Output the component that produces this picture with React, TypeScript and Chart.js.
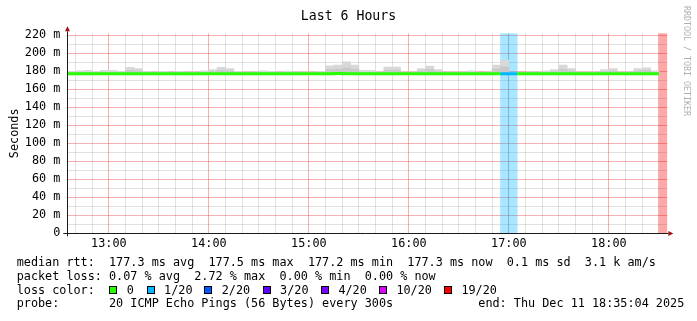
import React, { useEffect, useRef } from "react";
import { Chart, registerables } from "chart.js";

Chart.register(...registerables);

const MONO = "'DejaVu Sans Mono', 'Liberation Mono', monospace";

const chartTitle = "Last 6 Hours";
const yAxisTitle = "Seconds";
const endTime = "18:35:04";
const spanMinutes = 360;
const stepMinutes = 5;
const yAxisMax = 222.2;

const sampleTimes = [
  "12:35", "12:40", "12:45", "12:50", "12:55",
  "13:00", "13:05", "13:10", "13:15", "13:20", "13:25", "13:30", "13:35", "13:40", "13:45", "13:50", "13:55",
  "14:00", "14:05", "14:10", "14:15", "14:20", "14:25", "14:30", "14:35", "14:40", "14:45", "14:50", "14:55",
  "15:00", "15:05", "15:10", "15:15", "15:20", "15:25", "15:30", "15:35", "15:40", "15:45", "15:50", "15:55",
  "16:00", "16:05", "16:10", "16:15", "16:20", "16:25", "16:30", "16:35", "16:40", "16:45", "16:50", "16:55",
  "17:00", "17:05", "17:10", "17:15", "17:20", "17:25", "17:30", "17:35", "17:40", "17:45", "17:50", "17:55",
  "18:00", "18:05", "18:10", "18:15", "18:20", "18:25", "18:30",
];

// median rtt per sample (ms)
const medianRtt = [
  177.3, 177.3, 177.4, 177.3, 177.3, 177.2, 177.3, 177.3, 177.4, 177.3,
  177.3, 177.2, 177.3, 177.3, 177.3, 177.2, 177.3, 177.4, 177.3, 177.3,
  177.3, 177.3, 177.2, 177.3, 177.3, 177.3, 177.3, 177.2, 177.3, 177.3,
  177.3, 177.4, 177.5, 177.4, 177.3, 177.3, 177.3, 177.2, 177.3, 177.3,
  177.3, 177.3, 177.3, 177.4, 177.3, 177.3, 177.2, 177.3, 177.3, 177.3,
  177.3, 177.3, 177.4, 177.3, 177.3, 177.2, 177.3, 177.3, 177.3, 177.4,
  177.3, 177.3, 177.3, 177.2, 177.3, 177.3, 177.3, 177.3, 177.3, 177.3,
  177.3, null,
];

// smoke (ping spread) per sample (ms)
const smokeLow = [
  176.8, 176.8, 176.8, 176.8, 176.8, 176.8, 176.8, 176.8, 176.8, 176.8,
  176.8, 176.8, 176.8, 176.8, 176.8, 176.8, 176.8, 176.8, 176.8, 176.8,
  176.8, 176.8, 176.8, 176.8, 176.8, 176.8, 176.8, 176.8, 176.8, 176.8,
  176.8, 176.8, 176.8, 176.8, 176.8, 176.8, 176.8, 176.8, 176.8, 176.8,
  176.8, 176.8, 176.8, 176.8, 176.8, 176.8, 176.8, 176.8, 176.8, 176.8,
  176.8, 176.8, 176.8, 176.8, 176.8, 176.8, 176.8, 176.8, 176.8, 176.8,
  176.8, 176.8, 176.8, 176.8, 176.8, 176.8, 176.8, 176.8, 176.8, 176.8,
  176.8, null,
];
const smokeMid = [
  178.6, 178.8, 179.0, 178.6, 179.0, 179.0, 178.6, 181.0, 180.5, 178.6,
  178.4, 178.6, 178.4, 178.6, 178.4, 178.4, 178.8, 179.6, 181.0, 180.5,
  178.6, 178.4, 178.4, 178.8, 178.6, 178.4, 178.7, 178.4, 178.4, 178.4,
  178.6, 182.0, 182.5, 184.0, 182.5, 179.0, 179.0, 178.4, 181.5, 181.5,
  178.4, 178.4, 180.5, 182.0, 179.6, 178.4, 178.4, 178.4, 178.8, 178.2,
  178.4, 182.5, 185.0, 177.6, 178.2, 178.4, 178.4, 178.8, 179.6, 182.0,
  180.5, 178.4, 178.4, 178.4, 179.6, 180.5, 178.4, 178.4, 180.5, 181.0,
  178.8, null,
];
const smokeHigh = [
  180.0, 180.5, 181.0, 180.0, 181.0, 181.0, 180.0, 184.3, 183.0, 180.0,
  179.5, 180.0, 179.5, 180.0, 179.5, 179.5, 180.5, 182.0, 184.3, 183.0,
  180.0, 179.5, 179.5, 180.6, 180.0, 179.5, 180.2, 179.5, 179.5, 179.5,
  180.0, 186.0, 187.0, 190.6, 187.0, 181.0, 181.0, 179.5, 184.6, 184.6,
  179.5, 179.5, 183.0, 185.7, 182.0, 179.5, 179.5, 179.5, 180.5, 179.0,
  179.5, 187.0, 192.4, 178.0, 179.0, 179.5, 179.5, 180.5, 182.0, 187.0,
  183.0, 179.5, 179.5, 179.5, 182.0, 183.0, 179.5, 179.5, 183.0, 184.0,
  180.5, null,
];

// lost pings out of 20 per sample
const lossCount = [
  0, 0, 0, 0, 0, 0, 0, 0, 0, 0,
  0, 0, 0, 0, 0, 0, 0, 0, 0, 0,
  0, 0, 0, 0, 0, 0, 0, 0, 0, 0,
  0, 0, 0, 0, 0, 0, 0, 0, 0, 0,
  0, 0, 0, 0, 0, 0, 0, 0, 0, 0,
  0, 0, 1, 1, 0, 0, 0, 0, 0, 0,
  0, 0, 0, 0, 0, 0, 0, 0, 0, 0,
  0, 20,
];

const xTickLabels = ["13:00", "14:00", "15:00", "16:00", "17:00", "18:00"];
const yTickValues = [0, 20, 40, 60, 80, 100, 120, 140, 160, 180, 200, 220];
const yTickLabels = ["0", "20 m", "40 m", "60 m", "80 m", "100 m", "120 m", "140 m", "160 m", "180 m", "200 m", "220 m"];

const lossLevels = [0, 1, 2, 3, 4, 10, 19];
const lossLabels = ["0", "1/20", "2/20", "3/20", "4/20", "10/20", "19/20"];
const lossColors = ["#26ff00", "#00b8ff", "#0059ff", "#5e00ff", "#7e00ff", "#dd00ff", "#ff0000"];
const lossLegendX = [109.3, 146.7, 204.3, 262.7, 321, 379, 444];

const medianLine = "median rtt:  177.3 ms avg  177.5 ms max  177.2 ms min  177.3 ms now  0.1 ms sd  3.1 k am/s";
const lossLine = "packet loss: 0.07 % avg  2.72 % max  0.00 % min  0.00 % now";
const lossColorLabel = "loss color:";
const probeLine = "probe:       20 ICMP Echo Pings (56 Bytes) every 300s";
const endLine = "end: Thu Dec 11 18:35:04 2025";
const watermark = "RRDTOOL / TOBI OETIKER";

const toMinutes = (s: string) => {
  const p = s.split(":").map(Number);
  return p[0] * 60 + p[1] + (p[2] || 0) / 60;
};

const lossColor = (n: number) => {
  let c = lossColors[0];
  lossLevels.forEach((lv, i) => {
    if (n >= lv) c = lossColors[i];
  });
  return c;
};

const withAlpha = (hex: string, a: number) => {
  const r = parseInt(hex.slice(1, 3), 16);
  const g = parseInt(hex.slice(3, 5), 16);
  const b = parseInt(hex.slice(5, 7), 16);
  return `rgba(${r},${g},${b},${a})`;
};

const MAJOR_GRID = "rgba(230,60,60,0.40)";
const MINOR_GRID = "rgba(120,120,120,0.22)";

const rrdAxes = {
  id: "rrdAxes",
  afterDraw(chart: any) {
    const { ctx, chartArea } = chart;
    const { left, right, top, bottom } = chartArea;
    const x0 = Math.floor(left) + 0.5;
    const y0 = Math.floor(bottom) + 0.5;
    ctx.save();
    ctx.strokeStyle = "#1a1a1a";
    ctx.lineWidth = 1;
    ctx.beginPath();
    ctx.moveTo(left - 4, y0);
    ctx.lineTo(right + 1, y0);
    ctx.moveTo(x0, bottom + 3);
    ctx.lineTo(x0, top - 2);
    ctx.stroke();
    ctx.fillStyle = "#a01010";
    ctx.beginPath();
    ctx.moveTo(right + 1, y0 - 2.5);
    ctx.lineTo(right + 6, y0);
    ctx.lineTo(right + 1, y0 + 2.5);
    ctx.closePath();
    ctx.fill();
    ctx.beginPath();
    ctx.moveTo(x0 - 2.5, top - 2);
    ctx.lineTo(x0, top - 7);
    ctx.lineTo(x0 + 2.5, top - 2);
    ctx.closePath();
    ctx.fill();
    ctx.restore();
  },
};

export default function App() {
  const ref = useRef<HTMLCanvasElement>(null);

  useEffect(() => {
    document.body.style.margin = "0";
    const xMax = toMinutes(endTime);
    const xMin = xMax - spanMinutes;
    const t = sampleTimes.map(toMinutes);
    const half = stepMinutes / 2;

    // median line (stepped), with a closing point after the last valid sample
    const lineData: any[] = [];
    const lineLoss: number[] = [];
    medianRtt.forEach((m, i) => {
      lineData.push({ x: t[i], y: m });
      lineLoss.push(lossCount[i]);
      const next = medianRtt[i + 1];
      if (m != null && (next === undefined || next === null)) {
        lineData.push({ x: t[i] + stepMinutes, y: m });
        lineLoss.push(lossCount[i]);
      }
    });

    const barCommon = {
      type: "bar" as const,
      grouped: false,
      barPercentage: 1,
      categoryPercentage: 1,
      borderWidth: 0,
    };

    const chart = new Chart(ref.current as HTMLCanvasElement, {
      type: "bar",
      data: {
        datasets: [
          {
            type: "line",
            label: "median rtt",
            data: lineData,
            stepped: true,
            borderWidth: 3,
            pointRadius: 0,
            borderColor: lossColor(0),
            segment: {
              borderColor: (c: any) => lossColor(lineLoss[c.p0DataIndex]),
            },
            spanGaps: false,
            order: 0,
          } as any,
          {
            ...barCommon,
            label: "smoke inner",
            data: t.map((x, i) => ({
              x: x + half,
              y: smokeMid[i] == null ? null : [smokeLow[i], smokeMid[i]],
            })),
            backgroundColor: "#c9c9c9",
            order: 1,
          } as any,
          {
            ...barCommon,
            label: "smoke",
            data: t.map((x, i) => ({
              x: x + half,
              y: smokeHigh[i] == null ? null : [smokeLow[i], smokeHigh[i]],
            })),
            backgroundColor: "#d8d8d8",
            order: 2,
          } as any,
          {
            ...barCommon,
            label: "loss",
            data: t.map((x, i) => ({
              x: x + half,
              y: lossCount[i] > 0 ? [0, yAxisMax] : null,
            })),
            backgroundColor: lossCount.map((n) => withAlpha(lossColor(n), 0.34)),
            order: 3,
          } as any,
        ],
      },
      options: {
        animation: false,
        responsive: false,
        events: [],
        layout: { padding: 0 },
        plugins: {
          legend: { display: false },
          tooltip: { enabled: false },
          title: {
            display: true,
            text: chartTitle,
            color: "#000",
            font: { family: MONO, size: 13.2, weight: "normal" },
            padding: { top: 8.5, bottom: 9 },
          },
        },
        scales: {
          x: {
            type: "linear",
            min: xMin,
            max: xMax,
            offset: false,
            grid: {
              offset: false,
              drawTicks: false,
              lineWidth: 1,
              color: (c: any) => {
                const v = c.tick ? c.tick.value : 0;
                return Math.abs(v % 60) < 1e-6 ? MAJOR_GRID : MINOR_GRID;
              },
            },
            border: { display: false },
            afterBuildTicks: (s: any) => {
              const ticks = [];
              for (let v = Math.ceil(xMin / 10) * 10; v < xMax; v += 10) ticks.push({ value: v });
              s.ticks = ticks;
            },
            afterFit: (s: any) => {
              s.height = 321 - 233.3;
            },
            ticks: {
              autoSkip: false,
              maxRotation: 0,
              minRotation: 0,
              padding: 4,
              color: "#000",
              font: { family: MONO, size: 11.8 },
              callback: (v: any) => {
                const lab = xTickLabels.find((l) => Math.abs(toMinutes(l) - Number(v)) < 1e-6);
                return lab || "";
              },
            },
          },
          y: {
            type: "linear",
            min: 0,
            max: yAxisMax,
            grid: {
              drawTicks: false,
              lineWidth: 1,
              color: (c: any) => {
                const v = c.tick ? c.tick.value : 0;
                if (v === 0) return "rgba(0,0,0,0)";
                return yTickValues.includes(v) ? MAJOR_GRID : MINOR_GRID;
              },
            },
            border: { display: false },
            afterBuildTicks: (s: any) => {
              const ticks = [];
              for (let i = 0; i < yTickValues.length; i++) {
                ticks.push({ value: yTickValues[i] });
                if (i < yTickValues.length - 1) ticks.push({ value: (yTickValues[i] + yTickValues[i + 1]) / 2 });
              }
              s.ticks = ticks;
            },
            afterFit: (s: any) => {
              s.width = 67.3;
            },
            ticks: {
              autoSkip: false,
              padding: 7,
              color: "#000",
              font: { family: MONO, size: 11.8 },
              callback: (v: any) => {
                const idx = yTickValues.indexOf(Number(v));
                return idx >= 0 ? yTickLabels[idx] : "";
              },
            },
            title: {
              display: true,
              text: yAxisTitle,
              color: "#000",
              font: { family: MONO, size: 11.8 },
              padding: { top: 7.4, bottom: 0 },
            },
          },
          yRight: {
            type: "linear",
            position: "right",
            display: true,
            grid: { display: false, drawOnChartArea: false, drawTicks: false },
            ticks: { display: false },
            border: { display: false },
            afterFit: (s: any) => {
              s.width = 697 - 667.3;
            },
          },
        },
      } as any,
      plugins: [rrdAxes],
    });
    return () => chart.destroy();
  }, []);

  const row = (top: number, left = 16.7): React.CSSProperties => ({
    position: "absolute",
    left,
    top,
    fontFamily: MONO,
    fontSize: "11.8px",
    lineHeight: "14px",
    whiteSpace: "pre",
    color: "#000",
  });

  return (
    <div style={{ position: "relative", width: 697, height: 321, overflow: "hidden", background: "#fff" }}>
      <canvas ref={ref} width={697} height={321} style={{ position: "absolute", left: 0, top: 0 }} />
      <div
        style={{
          position: "absolute",
          left: 682,
          top: 6,
          writingMode: "vertical-rl",
          fontFamily: MONO,
          fontSize: "8.3px",
          lineHeight: "10px",
          color: "#b0b0b0",
          whiteSpace: "pre",
        }}
      >
        {watermark}
      </div>
      <div style={row(255.3)}>{medianLine}</div>
      <div style={row(268.7)}>{lossLine}</div>
      <div style={row(282.5)}>{lossColorLabel}</div>
      {lossLabels.map((lab, i) => (
        <React.Fragment key={lab}>
          <div
            style={{
              position: "absolute",
              left: lossLegendX[i],
              top: 286.3,
              width: 6,
              height: 6,
              border: "1px solid #000",
              background: lossColors[i],
            }}
          />
          <div style={row(282.5, lossLegendX[i] + 17.4)}>{lab}</div>
        </React.Fragment>
      ))}
      <div style={row(296.3)}>{probeLine}</div>
      <div style={row(296.3, 478.3)}>{endLine}</div>
    </div>
  );
}
